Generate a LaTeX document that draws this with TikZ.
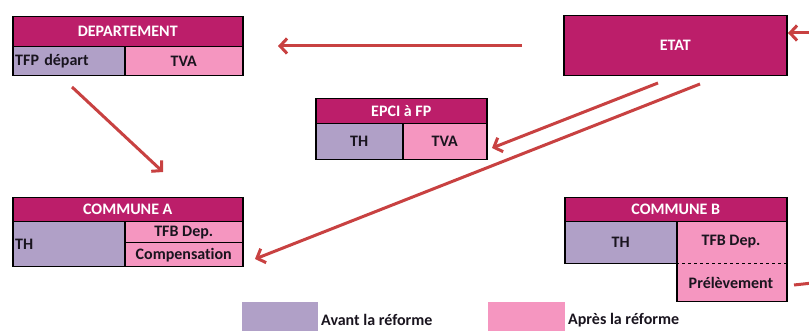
\documentclass[tikz,border=0pt]{standalone}
\usepackage{fontspec}
\setmainfont{Carlito}[Ligatures=NoCommon]
\usetikzlibrary{arrows.meta}
\definecolor{hdr}{RGB}{188,30,106}
\definecolor{avant}{RGB}{176,160,199}
\definecolor{apres}{RGB}{245,150,192}
\definecolor{arrred}{RGB}{200,65,65}
\definecolor{txt}{RGB}{25,20,30}
\tikzset{
  cell/.style={draw=black, line width=1.5pt, inner sep=0pt, anchor=north west,
    text=txt, font=\fontsize{16}{18}\selectfont\bfseries},
  hdrcell/.style={cell, fill=hdr, text=white},
  avcell/.style={cell, fill=avant},
  apcell/.style={cell, fill=apres},
  plain/.style={inner sep=0pt, text=txt, font=\fontsize{16}{18}\selectfont\bfseries},
  arr/.style={draw=arrred, line width=3pt, -{Straight Barb[length=7pt,width=15pt]}},
  arrline/.style={draw=arrred, line width=3pt},
}
\begin{document}
\begin{tikzpicture}[x=1pt,y=-1pt]
\useasboundingbox (0,0) rectangle (809,331);
% DEPARTEMENT
\node[hdrcell, minimum width=230pt, minimum height=30pt] (dep) at (12,16) {DEPARTEMENT};
\node[avcell, minimum width=112pt, minimum height=29pt, text width=107pt, align=left] (deptfp) at (12,46) {TFP départ};
\node[apcell, minimum width=118pt, minimum height=29pt] (deptva) at (124,46) {TVA};
% ETAT
\node[hdrcell, minimum width=223pt, minimum height=60pt] (etat) at (563,15) {ETAT};
% EPCI
\node[hdrcell, minimum width=171pt, minimum height=25pt] (epci) at (315,98) {EPCI à FP};
\node[avcell, minimum width=87pt, minimum height=36pt] (epcith) at (315,123) {TH};
\node[apcell, minimum width=84pt, minimum height=36pt] (epcitva) at (402,123) {TVA};
% COMMUNE A
\node[hdrcell, minimum width=230pt, minimum height=24pt] (ca) at (12,197) {COMMUNE A};
\node[avcell, minimum width=112pt, minimum height=45pt, text width=107pt, align=left] (cath) at (12,221) {TH};
\node[apcell, minimum width=118pt, minimum height=21pt] (catfb) at (124,221) {TFB Dep.};
\node[apcell, minimum width=118pt, minimum height=24pt] (cacomp) at (124,242) {Compensation};
% COMMUNE B
\node[hdrcell, minimum width=222pt, minimum height=24pt] (cb) at (564,197) {COMMUNE B};
\node[avcell, minimum width=112pt, minimum height=42pt] (cbth) at (564,221) {TH};
\node[apcell, minimum width=110pt, minimum height=80pt] (cbpink) at (676,221) {};
\draw[dashed, line width=0.8pt] (cbpink.west |- 0,263) -- (cbpink.east |- 0,263);
\node[plain] (cbtfb) at (731,242) {TFB Dep.};
\node[plain] (cbprel) at (731,283) {Prélèvement};
% legend
\node[fill=avant, minimum width=76pt, minimum height=29pt, inner sep=0pt, anchor=north west] (lav) at (242,302) {};
\node[plain, anchor=west] (lavt) at (321,320) {Avant la réforme};
\node[fill=apres, minimum width=77pt, minimum height=29pt, inner sep=0pt, anchor=north west] (lap) at (488,302) {};
\node[plain, anchor=west] (lapt) at (568,320) {Après la réforme};
% arrows
\coordinate (a1s) at (522,46);
\coordinate (a1e) at (278,46);
\draw[arr] (a1s) -- (a1e);
\coordinate (a2s) at (72,87);
\coordinate (a2e) at (163,172);
\draw[arr] (a2s) -- (a2e);
\coordinate (a3s) at (658,83);
\coordinate (a3e) at (492,148);
\draw[arr] (a3s) -- (a3e);
\coordinate (a4s) at (700,84);
\coordinate (a4e) at (255,259);
\draw[arr] (a4s) -- (a4e);
\coordinate (a5s) at (840,33);
\coordinate (a5e) at (788,33);
\draw[arr] (a5s) -- (a5e);
\coordinate (a6s) at (794,285);
\coordinate (a6e) at (840,280);
\draw[arrline] (a6s) -- (a6e);
\end{tikzpicture}
\end{document}
